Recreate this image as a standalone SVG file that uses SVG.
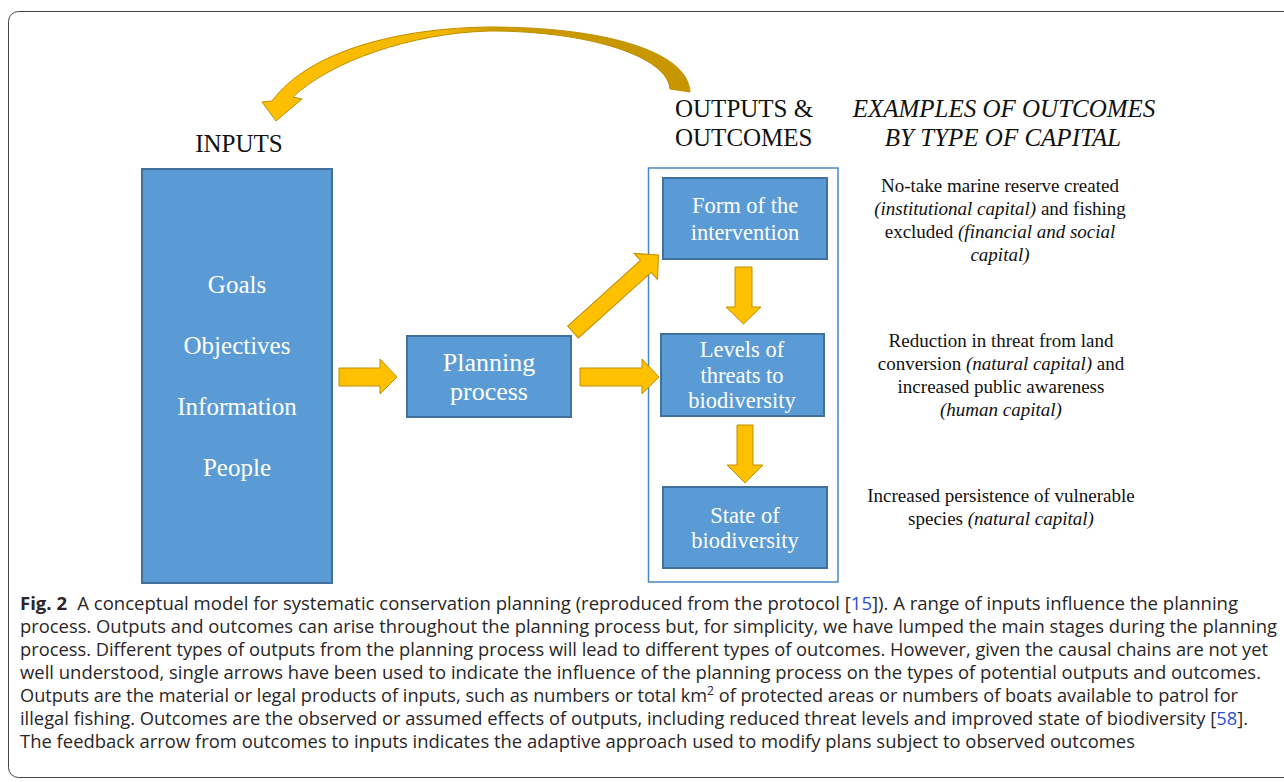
<svg xmlns="http://www.w3.org/2000/svg" width="1284" height="782" viewBox="0 0 1284 782">
<style>
.box{fill:#5B9BD5;stroke:#41719C;stroke-width:2}
.arr{fill:#FFC000;stroke:#BF9000;stroke-width:1}
.bt{font-family:"Liberation Serif","Times New Roman",serif;fill:#FFFFFF;text-anchor:middle}
.hd{font-family:"Liberation Serif","Times New Roman",serif;fill:#111;font-size:25px}
.ex{font-family:"Liberation Serif","Times New Roman",serif;fill:#111;font-size:19px;text-anchor:middle}
.it{font-style:italic}
.cap{font-family:"Open Sans","Noto Sans","Liberation Sans",sans-serif;font-size:18px;fill:#2a2627}
.lnk{fill:#2B4FD8}
</style>
<defs>
<linearGradient id="curveGrad" gradientUnits="userSpaceOnUse" x1="262" y1="0" x2="690" y2="0">
<stop offset="0" stop-color="#FFC000"/>
<stop offset="0.42" stop-color="#F2B700"/>
<stop offset="0.55" stop-color="#CC9C00"/>
<stop offset="1" stop-color="#C69500"/>
</linearGradient>
</defs>
<rect x="0" y="0" width="1284" height="782" fill="#FFFFFF"/>
<rect id="frame" x="8.5" y="11.5" width="1290" height="766" rx="10" ry="10" fill="none" stroke="#444" stroke-width="1"/>

<g id="headers">
<text class="hd" x="239" y="152" text-anchor="middle">INPUTS</text>
<text class="hd" x="675" y="117">OUTPUTS &amp;</text>
<text class="hd" x="675" y="146">OUTCOMES</text>
<text class="hd it" x="1004" y="117" text-anchor="middle">EXAMPLES OF OUTCOMES</text>
<text class="hd it" x="1003" y="146" text-anchor="middle">BY TYPE OF CAPITAL</text>
</g>

<g id="inputs">
<rect class="box" x="142" y="169" width="190" height="414"/>
<text class="bt" font-size="25" x="237" y="293">Goals</text>
<text class="bt" font-size="25" x="237" y="354">Objectives</text>
<text class="bt" font-size="25" x="237" y="415">Information</text>
<text class="bt" font-size="25" x="237" y="476">People</text>
</g>

<g id="planning">
<rect class="box" x="407" y="336" width="164" height="81"/>
<text class="bt" font-size="26" x="489" y="371">Planning</text>
<text class="bt" font-size="26" x="489" y="400">process</text>
</g>

<g id="outputs-container">
<rect x="648.5" y="168" width="189.5" height="414" fill="none" stroke="#4A86C5" stroke-width="1.5"/>
</g>

<g id="form">
<rect class="box" x="663" y="178" width="164" height="81"/>
<text class="bt" font-size="22.5" x="745" y="213">Form of the</text>
<text class="bt" font-size="22.5" x="745" y="240">intervention</text>
</g>

<g id="levels">
<rect class="box" x="661" y="334" width="163" height="82"/>
<text class="bt" font-size="22.5" x="742" y="357">Levels of</text>
<text class="bt" font-size="22.5" x="742" y="383">threats to</text>
<text class="bt" font-size="22.5" x="742" y="408">biodiversity</text>
</g>

<g id="state">
<rect class="box" x="663" y="487" width="164" height="81"/>
<text class="bt" font-size="22.5" x="745" y="523">State of</text>
<text class="bt" font-size="22.5" x="745" y="548">biodiversity</text>
</g>

<g id="examples">
<text class="ex" x="1000" y="192">No-take marine reserve created</text>
<text class="ex" x="1000" y="215"><tspan class="it">(institutional capital)</tspan> and fishing</text>
<text class="ex" x="1000" y="238">excluded <tspan class="it">(financial and social</tspan></text>
<text class="ex it" x="1000" y="261">capital)</text>
<text class="ex" x="1001" y="347">Reduction in threat from land</text>
<text class="ex" x="1001" y="370">conversion <tspan class="it">(natural capital)</tspan> and</text>
<text class="ex" x="1001" y="393">increased public awareness</text>
<text class="ex it" x="1001" y="416">(human capital)</text>
<text class="ex" x="1001" y="502">Increased persistence of vulnerable</text>
<text class="ex" x="1001" y="525">species <tspan class="it">(natural capital)</tspan></text>
</g>

<g id="connectors">
<path class="arr" d="M339,368 L380,368 L380,359 L397,377 L380,394 L380,386 L339,386 Z"/>
<path class="arr" d="M580,368 L642,368 L642,359 L659,377 L642,394 L642,386 L580,386 Z"/>
<path class="arr" transform="translate(573,332) rotate(-42)" d="M0,-8 L98,-8 L98,-17.5 L115,0 L98,17.5 L98,8 L0,8 Z"/>
<path class="arr" d="M735,267 L752,267 L752,307 L761,307 L743.5,324 L726,307 L735,307 Z"/>
<path class="arr" d="M737,425 L753,425 L753,465 L763,465 L745,483 L727,465 L737,465 Z"/>
<path id="feedback" fill="url(#curveGrad)" stroke="#BF9000" stroke-width="1" d="M690,92 C688,50 600,27 490,27 C400,28 310,50 272,101 L262,102 L276,121 L302,99 L293,97 C330,62 410,33 490,31 C590,31 668,57 670,89 Z"/>
</g>

<g id="caption">
<text class="cap" x="20" y="610" textLength="1218" lengthAdjust="spacingAndGlyphs"><tspan font-weight="bold">Fig. 2</tspan><tspan dx="10">A conceptual model for systematic conservation planning (reproduced from the protocol [</tspan><tspan class="lnk">15</tspan><tspan>]). A range of inputs influence the planning</tspan></text>
<text class="cap" x="20" y="633" textLength="1257" lengthAdjust="spacingAndGlyphs">process. Outputs and outcomes can arise throughout the planning process but, for simplicity, we have lumped the main stages during the planning</text>
<text class="cap" x="20" y="656" textLength="1248" lengthAdjust="spacingAndGlyphs">process. Different types of outputs from the planning process will lead to different types of outcomes. However, given the causal chains are not yet</text>
<text class="cap" x="20" y="679" textLength="1241" lengthAdjust="spacingAndGlyphs">well understood, single arrows have been used to indicate the influence of the planning process on the types of potential outputs and outcomes.</text>
<text class="cap" x="20" y="702" textLength="1218" lengthAdjust="spacingAndGlyphs">Outputs are the material or legal products of inputs, such as numbers or total km<tspan font-size="12" dy="-7">2</tspan><tspan dy="7"> of protected areas or numbers of boats available to patrol for</tspan></text>
<text class="cap" x="20" y="725" textLength="1228" lengthAdjust="spacingAndGlyphs">illegal fishing. Outcomes are the observed or assumed effects of outputs, including reduced threat levels and improved state of biodiversity [<tspan class="lnk">58</tspan>].</text>
<text class="cap" x="20" y="748" textLength="1115" lengthAdjust="spacingAndGlyphs">The feedback arrow from outcomes to inputs indicates the adaptive approach used to modify plans subject to observed outcomes</text>
</g>
</svg>
